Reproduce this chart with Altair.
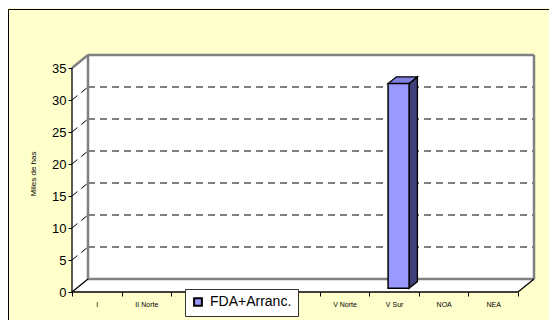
import altair as alt
import pandas as pd

# ---- data ----
categories = ["I", "II Norte", "II Sur", "III", "IV", "V Norte", "V Sur", "NOA", "NEA"]
values = [0, 0, 0, 0, 0, 0, 32, 0, 0]
series_name = "FDA+Arranc."
y_ticks = [0, 5, 10, 15, 20, 25, 30, 35]
y_title = "Miles de has"
# category labels that the legend box hides in the original
covered_labels = ["II Sur", "III", "IV"]

# ---- geometry / style constants ----
N = len(categories)
YMAX = 35
FRONT_W, FRONT_H = 446, 224          # front frame in px
DEPTH_X, DEPTH_Y = 16, 13            # 3-D depth in px
KX = FRONT_W / N
KY = FRONT_H / YMAX
DX = DEPTH_X / KX
DY = DEPTH_Y / KY
W = FRONT_W + DEPTH_X
H = FRONT_H + DEPTH_Y
FONT = "Liberation Sans"
BAR_W = 21 / KX
F0, F1 = 0.28, 0.80                  # bar depth (front, back) as fraction of DX/DY

xscale = alt.Scale(domain=[0, N + DX], nice=False, zero=False)
yscale = alt.Scale(domain=[0, YMAX + DY], nice=False, zero=False)

names_js = "[" + ",".join("'" + c + "'" for c in categories) + "]"
covered_js = "[" + ",".join("'" + c + "'" for c in covered_labels) + "]"
label_expr = (
    f"datum.value < {N} && indexof({covered_js}, {names_js}[datum.value]) < 0 "
    f"? {names_js}[datum.value] : ''"
)
xaxis = alt.Axis(
    values=list(range(N + 1)), labelExpr=label_expr,
    labelOffset=KX / 2, labelFlush=False, labelOverlap=False, domain=False, grid=False,
    tickColor="#000", tickSize=4, labelFontSize=7, labelFont=FONT, labelColor="#000",
    labelPadding=4, title=None,
)
yaxis = alt.Axis(
    values=y_ticks, domain=False, grid=False, tickColor="#000", tickSize=4,
    labelFontSize=13, labelFont=FONT, labelColor="#000", labelPadding=2,
    title=y_title, titleFont=FONT, titleFontSize=8, titleFontWeight="normal",
    titleColor="#000", titlePadding=14,
)

X = alt.X("x:Q", scale=xscale, axis=xaxis)
Y = alt.Y("y:Q", scale=yscale, axis=yaxis)
X2 = alt.X2("x2:Q")
Y2 = alt.Y2("y2:Q")

# ---- walls and floor ----
back_wall = pd.DataFrame({"x": [DX], "x2": [N + DX], "y": [DY], "y2": [YMAX + DY]})
left_wall = pd.DataFrame({"x": [0, DX], "y": [0, DY], "y2": [YMAX, YMAX + DY]})
floor = pd.DataFrame({"x": [0, DX, N, N + DX], "y": [0, 0, 0, DY], "y2": [0, DY, DY, DY]})

gray_edges = pd.DataFrame([
    {"x": DX, "y": YMAX + DY, "x2": N + DX, "y2": YMAX + DY},
    {"x": N + DX, "y": DY, "x2": N + DX, "y2": YMAX + DY},
    {"x": DX, "y": DY, "x2": DX, "y2": YMAX + DY},
    {"x": DX, "y": DY, "x2": N + DX, "y2": DY},
    {"x": 0, "y": YMAX, "x2": DX, "y2": YMAX + DY},
])
black_edges = pd.DataFrame([
    {"x": 0, "y": 0, "x2": 0, "y2": YMAX},
    {"x": 0, "y": 0, "x2": N, "y2": 0},
    {"x": 0, "y": 0, "x2": DX, "y2": DY},
    {"x": N, "y": 0, "x2": N + DX, "y2": DY},
])
grid_rows = []
for v in y_ticks[1:-1]:
    grid_rows.append({"x": DX, "y": v + DY, "x2": N + DX, "y2": v + DY})
    grid_rows.append({"x": 0, "y": v, "x2": DX, "y2": v + DY})
grid = pd.DataFrame(grid_rows)

# ---- bars ----
front_rows, side_rows, top_rows = [], [], []
for i, (c, v) in enumerate(zip(categories, values)):
    if v <= 0:
        continue
    xl = i + 0.5 - BAR_W / 2 + F0 * DX
    xr = xl + BAR_W
    y0 = F0 * DY
    t = v + F0 * DY
    ddx = (F1 - F0) * DX
    ddy = (F1 - F0) * DY
    front_rows.append({"x": xl, "x2": xr, "y": y0, "y2": t, "serie": series_name, "cat": c, "valor": v})
    side_rows += [{"x": xr, "y": y0, "y2": t, "cat": c}, {"x": xr + ddx, "y": y0 + ddy, "y2": t + ddy, "cat": c}]
    top_rows += [
        {"x": xl, "y": t, "y2": t, "cat": c},
        {"x": xl + ddx, "y": t, "y2": t + ddy, "cat": c},
        {"x": xr, "y": t, "y2": t + ddy, "cat": c},
        {"x": xr + ddx, "y": t + ddy, "y2": t + ddy, "cat": c},
    ]
front = pd.DataFrame(front_rows)
side = pd.DataFrame(side_rows)
top = pd.DataFrame(top_rows)

layers = [
    alt.Chart(back_wall).mark_rect(fill="white").encode(x=X, x2=X2, y=Y, y2=Y2),
    alt.Chart(left_wall).mark_area(fill="white", opacity=1).encode(x=X, y=Y, y2=Y2),
    alt.Chart(floor).mark_area(fill="white", opacity=1).encode(x=X, y=Y, y2=Y2),
    alt.Chart(grid).mark_rule(color="#000", strokeWidth=1, strokeDash=[7, 5]).encode(x=X, x2=X2, y=Y, y2=Y2),
    alt.Chart(gray_edges).mark_rule(color="#808080", strokeWidth=2.5).encode(x=X, x2=X2, y=Y, y2=Y2),
    alt.Chart(black_edges).mark_rule(color="#000", strokeWidth=1.3).encode(x=X, x2=X2, y=Y, y2=Y2),
    alt.Chart(side).mark_area(fill="#3F3F7A", stroke="#000", strokeWidth=1.3, opacity=1).encode(
        x=X, y=Y, y2=Y2, detail="cat:N"),
    alt.Chart(top).mark_area(fill="#8080E0", stroke="#000", strokeWidth=1.3, opacity=1).encode(
        x=X, y=Y, y2=Y2, detail="cat:N"),
    alt.Chart(front).mark_rect(stroke="#000", strokeWidth=1.5, opacity=1).encode(
        x=X, x2=X2, y=Y, y2=Y2,
        color=alt.Color("serie:N", scale=alt.Scale(range=["#9999FF"]),
                        legend=alt.Legend(title=None, orient="none", legendX=113, legendY=234)),
        tooltip=["cat:N", "valor:Q"],
    ),
    # outer frame (left and top border of the chart area)
    alt.Chart(pd.DataFrame({"k": [0]})).mark_rule(color="#000", strokeWidth=1).encode(
        x=alt.value(-63.5), y=alt.value(-45.5), y2=alt.value(H + 28)),
    alt.Chart(pd.DataFrame({"k": [0]})).mark_rule(color="#000", strokeWidth=1).encode(
        x=alt.value(-63.5), x2=alt.value(W + 15), y=alt.value(-45.5)),
]

chart = alt.layer(*layers).properties(
    width=W, height=H,
    autosize=alt.AutoSizeParams(type="none"),
    padding={"left": 64, "top": 47, "right": 15, "bottom": 28},
    background="#FFFFCC",
).configure_view(stroke=None).configure_legend(
    fillColor="white", strokeColor="#333333", padding=6, symbolType="square",
    symbolSize=60, symbolStrokeColor="#000", symbolStrokeWidth=2, labelFontSize=14,
    labelFont=FONT, labelColor="#000", labelOffset=5, cornerRadius=0,
)

chart.save("out.html", embed_options={"renderer": "svg", "actions": False})
